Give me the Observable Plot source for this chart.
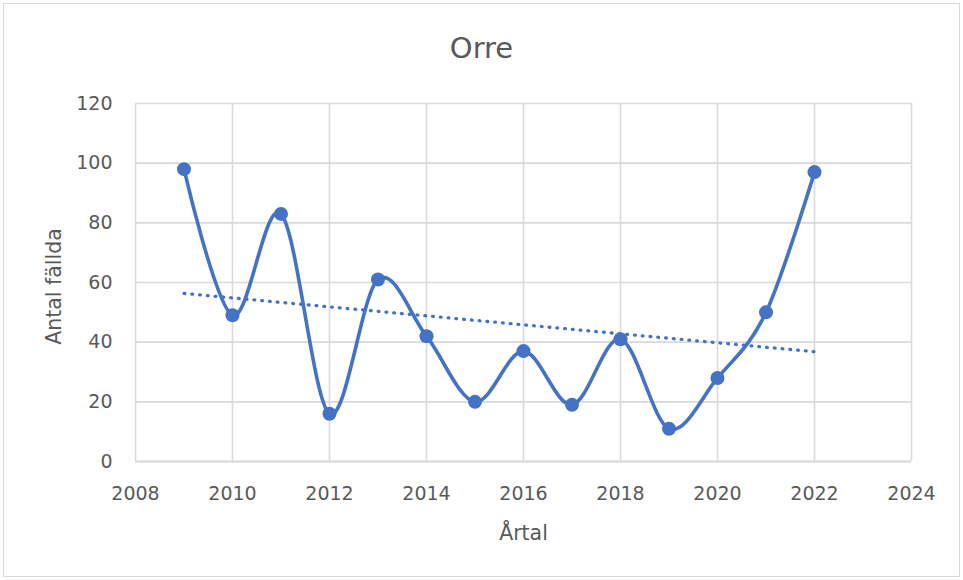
<!DOCTYPE html>
<html>
<head>
<meta charset="utf-8">
<script src="https://cdn.jsdelivr.net/npm/d3@7"></script>
<script src="https://cdn.jsdelivr.net/npm/@observablehq/plot@0.6"></script>
<style>
  html, body { margin: 0; padding: 0; background: #fff; }
  #wrap { position: relative; width: 963px; height: 580px; overflow: hidden; font-family: "DejaVu Sans", sans-serif; }
  #border { position: absolute; left: 3px; top: 3px; width: 955px; height: 572px; border: 1px solid #d9d9d9; }
  #title { position: absolute; left: 0; width: 963px; top: 34px; text-align: center; font-size: 29px; line-height: 29px; color: #595959; }
  #chart { position: absolute; left: 0; top: 75px; }
</style>
</head>
<body>
<div id="wrap">
  <div id="border"></div>
  <div id="title">Orre</div>
  <div id="chart"></div>
</div>
<script>
const years = [2009, 2010, 2011, 2012, 2013, 2014, 2015, 2016, 2017, 2018, 2019, 2020, 2021, 2022];
const counts = [98, 49, 83, 16, 61, 42, 20, 37, 19, 41, 11, 28, 50, 97];
const xTicks = [2008, 2010, 2012, 2014, 2016, 2018, 2020, 2022, 2024];
const yTicks = [0, 20, 40, 60, 80, 100, 120];
const xLabel = "Årtal";
const yLabel = "Antal fällda";

const data = years.map((y, i) => ({year: y, count: counts[i]}));
const blue = "#4472C4";
const grid = "#d9d9d9";
const txt = "#595959";

const chart = Plot.plot({
  width: 963,
  height: 505,
  marginLeft: 135,
  marginRight: 52,
  marginTop: 28,
  marginBottom: 119,
  style: {fontFamily: "DejaVu Sans, sans-serif", fontSize: "19px", color: txt, background: "transparent"},
  x: {domain: [2008, 2024]},
  y: {domain: [0, 120]},
  marks: [
    Plot.gridX(xTicks, {stroke: grid, strokeOpacity: 1, strokeWidth: 1.6}),
    Plot.gridY(yTicks, {stroke: grid, strokeOpacity: 1, strokeWidth: 1.6}),
    Plot.ruleY([0], {stroke: grid, strokeWidth: 2.2}),
    Plot.axisX(xTicks, {tickSize: 0, tickPadding: 25, tickFormat: d => String(d), label: null, fill: txt, fontSize: 19}),
    Plot.axisY(yTicks, {tickSize: 0, tickPadding: 23, tickFormat: d => String(d), label: null, fill: txt, fontSize: 19}),
    Plot.linearRegressionY(data, {x: "year", y: "count", stroke: blue, strokeWidth: 3.3, strokeDasharray: "0.8,7", strokeLinecap: "round", ci: 0}),
    Plot.line(data, {x: "year", y: "count", stroke: blue, strokeWidth: 3.6, curve: "cardinal", tension: 0}),
    Plot.dot(data, {x: "year", y: "count", r: 7, fill: blue, stroke: "none"}),
    Plot.text([xLabel], {frameAnchor: "bottom", lineAnchor: "middle", textAnchor: "middle", dy: 71.5, text: d => d, fill: txt, fontSize: 20.5}),
    Plot.text([yLabel], {frameAnchor: "left", lineAnchor: "middle", textAnchor: "middle", dx: -81, dy: 4, rotate: -90, text: d => d, fill: txt, fontSize: 20.5})
  ]
});
document.getElementById("chart").appendChild(chart);
</script>
</body>
</html>
